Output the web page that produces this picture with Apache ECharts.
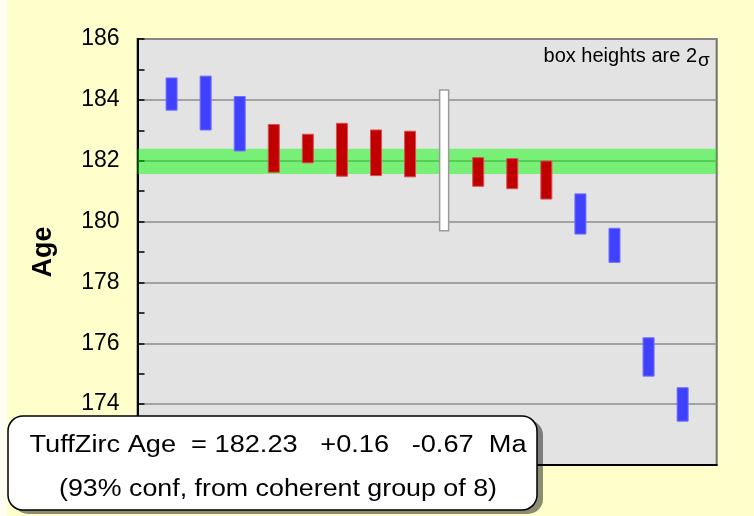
<!DOCTYPE html>
<html>
<head>
<meta charset="utf-8">
<script src="https://cdn.jsdelivr.net/npm/echarts@6/dist/echarts.min.js"></script>
<style>
html,body{margin:0;padding:0;background:#FFFFCC;}
#chart{width:754px;height:516px;}
</style>
</head>
<body>
<div id="chart"></div>
<script>
// ---- data ----
const grainIndex = [1,2,3,4,5,6,7,8,9,10,11,12,13,14,15,16];
const ageHigh = [184.72,184.78,184.11,183.19,182.87,183.23,183.01,182.97,184.32,182.10,182.07,181.99,180.91,179.78,176.18,174.54];
const ageLow  = [183.66,183.01,182.32,181.62,181.93,181.49,181.51,181.47,179.70,181.16,181.08,180.74,179.59,178.66,174.92,173.44];
const grainGroup = ['rejected','rejected','rejected','coherent','coherent','coherent','coherent','coherent','excluded','coherent','coherent','coherent','rejected','rejected','rejected','rejected'];
const tuffAge = 182.23, tuffPlus = 0.16, tuffMinus = 0.67;
const yTicks = [172,174,176,178,180,182,184,186];
const line1 = 'TuffZirc Age  = 182.23   +0.16   -0.67  Ma';
const line2 = '(93% conf, from coherent group of 8)';
const noteText = 'box heights are 2';
const sigmaText = '\u03C3';

const groupStyle = {
  rejected: {fill:'#4040FF', stroke:'#7070FF', lineWidth:1, w:11},
  coherent: {fill:'#C00000', stroke:'#D85050', lineWidth:1, w:11},
  excluded: {fill:'#FFFFFF', stroke:'#9A9A9A', lineWidth:1.5, w:9}
};

function fitScale(text, font, target){
  const c = document.createElement('canvas').getContext('2d');
  c.font = font;
  return target / c.measureText(text).width;
}

const FF = '"Liberation Sans", Arial, sans-serif';
const boxFont = '23px ' + FF;
const s1 = fitScale(line1, boxFont, 497);
const s2 = fitScale(line2, boxFont, 438);

const chart = echarts.init(document.getElementById('chart'), null, {renderer:'canvas'});
const option = {
  backgroundColor: '#FFFFCC',
  animation: false,
  grid: {left:137.5, top:39, right:37.3, bottom:51, show:true, backgroundColor:'#E3E3E3', borderColor:'#707070', borderWidth:2},
  xAxis: {type:'value', min:0, max:17, axisLine:{show:true, onZero:false, lineStyle:{color:'#000', width:2}}, axisTick:{show:false}, axisLabel:{show:false}, splitLine:{show:false}},
  yAxis: {
    type:'value', min:yTicks[0], max:yTicks[yTicks.length-1], interval:2,
    name:'Age', nameLocation:'middle', nameRotate:90, nameGap:80,
    nameTextStyle:{fontFamily:FF, fontSize:27, fontWeight:'bold', color:'#000'},
    axisLine:{show:true, lineStyle:{color:'#000', width:2}},
    axisTick:{show:true, inside:true, length:7, lineStyle:{color:'#000', width:1.5}},
    minorTick:{show:true, splitNumber:2, length:7, lineStyle:{color:'#000', width:1.5}},
    axisLabel:{fontFamily:FF, fontSize:23, color:'#000', margin:18},
    splitLine:{show:true, lineStyle:{color:'#8C8C8C', width:1.5}}
  },
  series: [
    {
      type:'custom', name:'band', z:3,
      data:[[0, 17, tuffAge - tuffMinus, tuffAge + tuffPlus]],
      renderItem: function(params, api){
        const p1 = api.coord([api.value(0), api.value(3)]);
        const p2 = api.coord([api.value(1), api.value(2)]);
        return {type:'rect', shape:{x:p1[0], y:p1[1], width:p2[0]-p1[0], height:p2[1]-p1[1]}, style:{fill:'rgba(0,255,0,0.47)'}};
      }
    },
    {
      type:'custom', name:'grains', z:5,
      data: grainIndex.map((g,i)=>[g, ageLow[i], ageHigh[i], i]),
      renderItem: function(params, api){
        const i = api.value(3);
        const st = groupStyle[grainGroup[i]];
        const top = api.coord([api.value(0), api.value(2)]);
        const bot = api.coord([api.value(0), api.value(1)]);
        return {type:'rect', shape:{x:top[0]-st.w/2, y:top[1], width:st.w, height:bot[1]-top[1]},
          style:{fill:st.fill, stroke:st.stroke, lineWidth:st.lineWidth}};
      }
    }
  ],
  graphic: [
    {type:'rect', z:0, silent:true, shape:{x:0,y:0,width:7,height:516}, style:{fill:'#FDFDF4'}},
    {type:'text', x:697, y:66, z:50, style:{text:noteText, font:'20px '+FF, fill:'#000', textAlign:'right', align:'right', textVerticalAlign:'bottom', verticalAlign:'bottom'}},
    {type:'text', x:698, y:70, z:50, style:{text:sigmaText, font:'19px '+FF, fill:'#000', textAlign:'left', align:'left', textVerticalAlign:'bottom', verticalAlign:'bottom'}},
    {type:'rect', z:100, shape:{x:13, y:420, width:530, height:94, r:15}, style:{fill:'rgba(0,0,0,0.45)'}},
    {type:'rect', z:101, shape:{x:8, y:416, width:529, height:94, r:15}, style:{fill:'#FFFFFF', stroke:'#000', lineWidth:1.5}},
    {type:'text', z:102, x:278, y:446, scaleX:s1, style:{text:line1, font:boxFont, fill:'#000', textAlign:'center', align:'center', textVerticalAlign:'middle', verticalAlign:'middle'}},
    {type:'text', z:102, x:278, y:490, scaleX:s2, style:{text:line2, font:boxFont, fill:'#000', textAlign:'center', align:'center', textVerticalAlign:'middle', verticalAlign:'middle'}}
  ]
};
chart.setOption(option);
</script>
</body>
</html>
